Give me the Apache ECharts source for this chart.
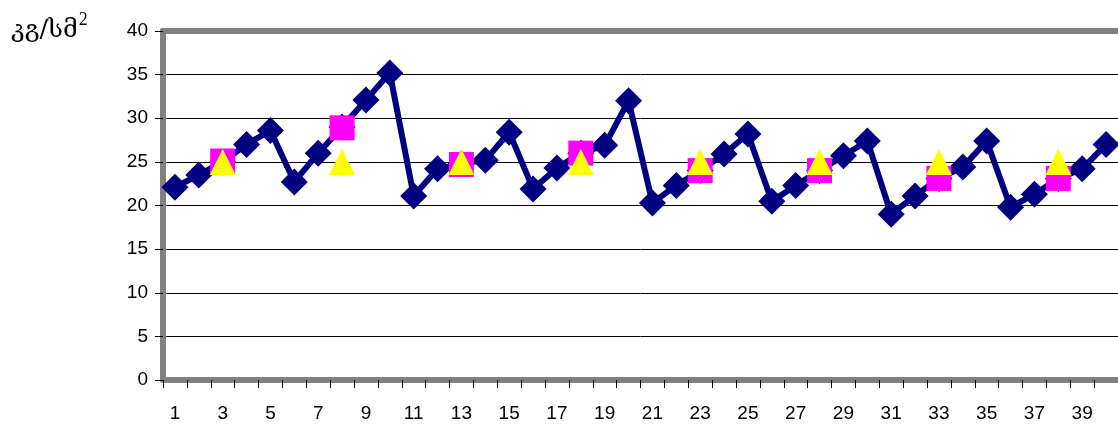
<!DOCTYPE html>
<html><head><meta charset="utf-8">
<script src="https://cdn.jsdelivr.net/npm/echarts@6/dist/echarts.min.js"></script>
<style>html,body{margin:0;padding:0;background:#fff}#c{width:1118px;height:428px}</style>
</head><body><div id="c"></div>
<script>
const categories = Array.from({length:40},(_,i)=>String(i+1));
const mainValues = [22.1,23.5,25.0,27.0,28.6,22.7,26.0,29.0,32.1,35.2,
                    21.1,24.2,24.8,25.2,28.4,21.9,24.3,26.0,26.9,32.0,
                    20.3,22.3,24.0,25.9,28.2,20.5,22.3,24.0,25.7,27.4,
                    19.0,21.1,23.1,24.4,27.4,19.8,21.3,23.1,24.2,27.0];
const markCats = ['3','8','13','18','23','28','33','38'];
const squareValues = [25.1,28.9,24.7,26.0,24.0,24.0,23.1,23.1];
const triangleValues = [25,25,25,25,25,25,25,25];
const yTicks = {min:0,max:40,interval:5};

const chart = echarts.init(document.getElementById('c'), null, {renderer:'canvas'});
const border = {color:'#808080',width:6};
chart.setOption({
  animation:false,
  backgroundColor:'#fff',
  title:{text:'{a|კგ/სმ}{b|2}',left:6,top:6,
    textStyle:{fontWeight:'normal',rich:{
      a:{fontFamily:'DejaVu Serif, DejaVu Sans',fontSize:25,fontWeight:'normal',color:'#000',verticalAlign:'bottom',lineHeight:32},
      b:{fontFamily:'Liberation Serif, DejaVu Serif',fontSize:18,fontWeight:'normal',color:'#000',verticalAlign:'top',lineHeight:32,padding:[0,0,10,1]}
    }}},
  grid:{left:163,top:31,width:957,height:349,show:false},
  xAxis:[{type:'category',data:categories,boundaryGap:true,
    axisLine:{show:true,lineStyle:border},
    axisTick:{show:true,interval:0,length:8,lineStyle:{color:'#000'}},
    axisLabel:{interval:1,margin:24,fontFamily:'Liberation Sans, Arial',fontSize:19,color:'#000'}},
    {type:'category',data:categories,position:'top',boundaryGap:true,
    axisLine:{show:true,lineStyle:border},axisTick:{show:false},axisLabel:{show:false}}],
  yAxis:{type:'value',min:yTicks.min,max:yTicks.max,interval:yTicks.interval,
    axisLine:{show:true,lineStyle:border},
    axisTick:{show:true,length:8,lineStyle:{color:'#000'}},
    axisLabel:{margin:15,fontFamily:'Liberation Sans, Arial',fontSize:19,color:'#000'},
    splitLine:{show:true,lineStyle:{color:'#000',width:1}}},
  series:[
    {type:'line',data:mainValues,symbol:'diamond',symbolSize:27,showAllSymbol:true,z:2,
      lineStyle:{color:'#000080',width:6},itemStyle:{color:'#000080',opacity:1}},
    {type:'scatter',data:markCats.map((c,i)=>[c,squareValues[i]]),symbol:'rect',symbolSize:25,z:3,
      itemStyle:{color:'#FF00FF',opacity:1}},
    {type:'scatter',data:markCats.map((c,i)=>[c,triangleValues[i]]),symbol:'triangle',symbolSize:26,z:4,
      itemStyle:{color:'#FFFF00',opacity:1}}
  ]
});
</script></body></html>
